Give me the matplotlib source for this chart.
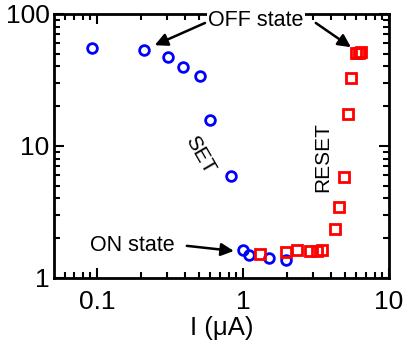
import matplotlib
matplotlib.use("Agg")
import matplotlib.pyplot as plt
from matplotlib.ticker import FixedLocator, LogLocator, NullFormatter

plt.rcParams['font.family'] = ['Liberation Sans', 'DejaVu Sans']

# SET branch (blue circles)
set_i = [0.092, 0.21, 0.305, 0.39, 0.51, 0.60, 0.83, 1.01, 1.10, 1.50, 1.97]
set_r = [55, 53, 47, 39.5, 34, 15.6, 5.9, 1.62, 1.50, 1.42, 1.36]

# RESET branch (red squares)
reset_i = [1.31, 1.97, 2.34, 2.90, 3.20, 3.50, 4.25, 4.55, 4.95, 5.25, 5.50, 5.95, 6.20, 6.45]
reset_r = [1.52, 1.57, 1.62, 1.60, 1.60, 1.62, 2.35, 3.45, 5.8, 17.5, 33, 50.5, 51, 51.5]

x_ticks = [0.1, 1, 10]
x_labels = ["0.1", "1", "10"]
y_ticks = [1, 10, 100]
y_labels = ["1", "10", "100"]

fig = plt.figure(figsize=(4.08, 3.41), dpi=100)
ax = fig.add_axes([0.132, 0.185, 0.821, 0.774])

ax.plot(set_i, set_r, 'o', ms=7, mfc='none', mec='#0000ff', mew=2)
ax.plot(reset_i, reset_r, 's', ms=7, mfc='none', mec='#ff0000', mew=2)

ax.set_xscale('log')
ax.set_yscale('log')
ax.set_xlim(0.0507, 10)
ax.set_ylim(1, 100)

ax.xaxis.set_major_locator(FixedLocator(x_ticks))
ax.set_xticklabels(x_labels)
ax.yaxis.set_major_locator(FixedLocator(y_ticks))
ax.set_yticklabels(y_labels)
ax.xaxis.set_minor_locator(LogLocator(subs=range(2, 10)))
ax.yaxis.set_minor_locator(LogLocator(subs=range(2, 10)))
ax.xaxis.set_minor_formatter(NullFormatter())
ax.yaxis.set_minor_formatter(NullFormatter())

ax.tick_params(which='both', direction='in', top=True, right=True, width=1.5)
ax.tick_params(which='major', length=7, labelsize=19)
ax.tick_params(axis='x', which='major', pad=9)
ax.tick_params(axis='y', which='major', pad=3)
ax.tick_params(which='minor', length=4)
for s in ax.spines.values():
    s.set_linewidth(2)

ax.set_xlabel("I (\u03bcA)", fontsize=18.5, labelpad=1)

arrow = dict(arrowstyle='-|>', color='black', lw=1.8, mutation_scale=19,
             shrinkA=0, shrinkB=0)
ax.text(1.23, 90, "OFF state", fontsize=15.5, ha='center', va='center',
        bbox=dict(fc='white', ec='none', pad=1), clip_on=False, zorder=5)
ax.annotate("", xy=(0.249, 58), xytext=(0.55, 85.5), arrowprops=arrow)
ax.annotate("", xy=(5.5, 56), xytext=(3.16, 85.5), arrowprops=arrow)
ax.text(0.174, 1.75, "ON state", fontsize=15.5, ha='center', va='center')
ax.annotate("", xy=(0.867, 1.60), xytext=(0.413, 1.75), arrowprops=arrow)

ax.text(0.51, 8.55, "SET", fontsize=15, rotation=-60, ha='center', va='center')
ax.text(3.53, 8.26, "RESET", fontsize=15, rotation=90, ha='center', va='center')

fig.savefig("out.png", dpi=100)
